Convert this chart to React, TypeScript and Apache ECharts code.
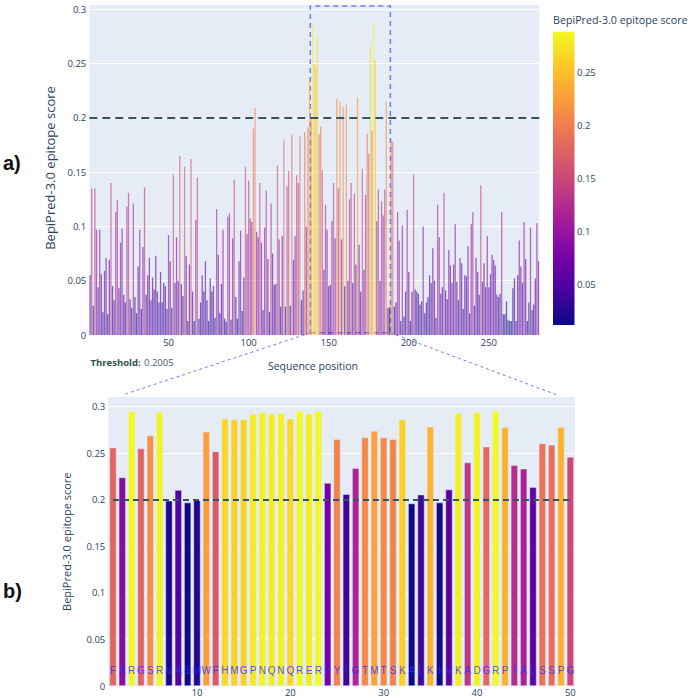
import React, { useEffect, useRef } from "react";
import * as echarts from "echarts";

// BepiPred-3.0 per-residue epitope scores along the whole sequence (positions 1-281)
const topScoresA = [
  0.055, 0.135, 0.027, 0.135, 0.097, 0.044, 0.097, 0.056, 0.021, 0.059,
  0.071, 0.019, 0.069, 0.14, 0.045, 0.032, 0.113, 0.124, 0.043, 0.085,
  0.098, 0.037, 0.03, 0.118, 0.131, 0.033, 0.025, 0.121, 0.035, 0.02,
  0.063, 0.097, 0.024, 0.081, 0.136, 0.037, 0.055, 0.071, 0.032, 0.053,
  0.042, 0.073, 0.04, 0.03, 0.058, 0.03, 0.048, 0.045, 0.024, 0.092,
  0.068, 0.025, 0.148, 0.048, 0.09, 0.05, 0.165, 0.047, 0.036, 0.155,
  0.073, 0.013, 0.065, 0.162, 0.04, 0.013, 0.106, 0.145, 0.015,
];
const topScoresB = [
  0.03, 0.055, 0.04, 0.068, 0.032, 0.013, 0.052, 0.04, 0.045, 0.016,
  0.116, 0.074, 0.02, 0.047, 0.097, 0.015, 0.0123, 0.109, 0.112, 0.014,
  0.089, 0.143, 0.035, 0.015, 0.068, 0.096, 0.022, 0.053, 0.155, 0.093,
  0.142, 0.107, 0.104, 0.19, 0.209, 0.095, 0.09, 0.14, 0.085, 0.023,
  0.099, 0.133, 0.07, 0.021, 0.121, 0.075, 0.046, 0.047, 0.156, 0.088,
  0.026, 0.091, 0.18, 0.026, 0.137, 0.151, 0.027, 0.184, 0.069, 0.091,
  0.147, 0.14, 0.183, 0.032, 0.041, 0.187, 0.1, 0.191, 0.235,
];
const topScoresC = [
  0.2, 0.288, 0.25, 0.248, 0.275, 0.185, 0.192, 0.152, 0.06, 0.12,
  0.097, 0.045, 0.046, 0.105, 0.14, 0.089, 0.218, 0.135, 0.215, 0.088,
  0.21, 0.045, 0.212, 0.05, 0.125, 0.14, 0.048, 0.13, 0.065, 0.219,
  0.083, 0.04, 0.153, 0.06, 0.129, 0.185, 0.167, 0.266, 0.188, 0.2886,
  0.253, 0.105, 0.134, 0.05, 0.123, 0.11, 0.134, 0.215, 0.025, 0.026,
  0.18, 0.178, 0.026, 0.03, 0.113, 0.087, 0.013, 0.101, 0.017, 0.04,
  0.115, 0.058, 0.013, 0.04, 0.148, 0.042, 0.04, 0.038, 0.028, 0.031,
];
const topScoresD = [
  0.1, 0.02, 0.03, 0.035, 0.055, 0.048, 0.08, 0.05, 0.016, 0.12,
  0.09, 0.038, 0.044, 0.131, 0.041, 0.033, 0.078, 0.064, 0.048, 0.065,
  0.102, 0.049, 0.032, 0.071, 0.066, 0.024, 0.055, 0.054, 0.082, 0.02,
  0.102, 0.113, 0.027, 0.071, 0.058, 0.037, 0.138, 0.049, 0.066, 0.044,
  0.091, 0.044, 0.056, 0.074, 0.069, 0.064, 0.037, 0.035, 0.038, 0.113,
  0.019, 0.019, 0.031, 0.014, 0.013, 0.013, 0.043, 0.052, 0.013, 0.055,
  0.087, 0.063, 0.048, 0.104, 0.07, 0.013, 0.03, 0.099, 0.023, 0.028,
  0.052, 0.103, 0.068,
];
const topScores = [...topScoresA, ...topScoresB, ...topScoresC, ...topScoresD];

const THRESHOLD = 0.2005;
// highlighted window on the full sequence
const windowStart = 138.5;
const windowEnd = 188.5;

// 50 highest-scoring residues, with their one-letter codes
const bottomScores = [
  0.256, 0.224, 0.295, 0.255, 0.269, 0.294, 0.199, 0.2105, 0.197, 0.1995,
  0.273, 0.252, 0.287, 0.286, 0.286, 0.292, 0.294, 0.2925, 0.293, 0.287,
  0.2953, 0.2925, 0.2953, 0.218, 0.265, 0.206, 0.234, 0.267, 0.274, 0.267,
  0.265, 0.286, 0.196, 0.2055, 0.2785, 0.197, 0.211, 0.293, 0.24, 0.294,
  0.257, 0.2953, 0.278, 0.237, 0.2334, 0.2134, 0.2606, 0.259, 0.278, 0.246,
];
const residues = [
  "F", "A", "R", "G", "S", "R", "V", "A", "S", "M",
  "W", "F", "H", "M", "G", "P", "N", "Q", "N", "Q",
  "R", "E", "R", "F", "Y", "I", "G", "T", "M", "T",
  "S", "K", "A", "L", "K", "I", "V", "K", "A", "D",
  "G", "R", "P", "I", "A", "L", "S", "S", "P", "G",
];

const topXTicks = [50, 100, 150, 200, 250];
const bottomXTicks = [10, 20, 30, 40, 50];
const colorbarTicks = [0.05, 0.1, 0.15, 0.2, 0.25];

const PLASMA = [
  "#0d0887", "#46039f", "#7201a8", "#9c179e", "#bd3786",
  "#d8576b", "#ed7953", "#fb9f3a", "#fdca26", "#f0f921",
];

const FONT = '"Open Sans", "Noto Sans", sans-serif';
const INK = "#2a3f5f";
const PLOT_BG = "#E5ECF6";
const THRESH_COLOR = "#33565d";
const WINDOW_COLOR = "#6b7ff2";

export default function App() {
  const ref = useRef<HTMLDivElement>(null);

  useEffect(() => {
    if (!ref.current) return;
    const chart = echarts.init(ref.current, null, { renderer: "svg" });

    const topMin = Math.min(...topScores);
    const topMax = Math.max(...topScores);
    const botMin = Math.min(...bottomScores);
    const botMax = Math.max(...bottomScores);

    const topData = topScores.map((v, i) => [i + 1, v]);
    const botData = bottomScores.map((v, i) => [i + 1, v]);

    // colour bar geometry
    const cbX = 553;
    const cbTop = 31.7;
    const cbW = 21.5;
    const cbH = 293.3;
    const cbY = (v: number) => cbTop + ((topMax - v) / (topMax - topMin)) * cbH;

    const baseGraphic: any[] = [
      {
        type: "text", left: 3, top: 153,
        style: { text: "a)", fontSize: 20, fontWeight: "bold", fill: "#111", fontFamily: '"Liberation Sans", Arial, sans-serif' },
      },
      {
        type: "text", left: 3, top: 581,
        style: { text: "b)", fontSize: 20, fontWeight: "bold", fill: "#111", fontFamily: '"Liberation Sans", Arial, sans-serif' },
      },
      {
        type: "text", x: 50, y: 168, rotation: Math.PI / 2,
        style: { text: "BepiPred-3.0 epitope score", fontSize: 13, fill: INK, fontFamily: FONT, textAlign: "center", textVerticalAlign: "middle" },
      },
      {
        type: "text", x: 66, y: 541.7, rotation: Math.PI / 2,
        style: { text: "BepiPred-3.0 epitope score", fontSize: 11, fill: INK, fontFamily: FONT, textAlign: "center", textVerticalAlign: "middle" },
      },
      {
        type: "text", x: 313, y: 366,
        style: { text: "Sequence position", fontSize: 10.5, fill: INK, fontFamily: FONT, textAlign: "center", textVerticalAlign: "middle" },
      },
      {
        type: "text", x: 90.5, y: 362.7,
        style: {
          text: "{b|Threshold:} {n|" + THRESHOLD + "}",
          textVerticalAlign: "middle",
          rich: {
            b: { fontSize: 9.5, fontWeight: "bold", fill: "#2F4F4F", fontFamily: FONT },
            n: { fontSize: 9.5, fill: "#3d6070", fontFamily: FONT },
          },
        },
      },
      {
        type: "text", x: cbX, y: 20,
        style: { text: "BepiPred-3.0 epitope score", fontSize: 10.7, fill: INK, fontFamily: FONT, textVerticalAlign: "middle" },
      },
      {
        type: "rect",
        shape: { x: cbX, y: cbTop, width: cbW, height: cbH },
        style: {
          fill: {
            type: "linear", x: 0, y: 1, x2: 0, y2: 0,
            colorStops: PLASMA.map((c, i) => ({ offset: i / (PLASMA.length - 1), color: c })),
          },
        },
      },
      ...colorbarTicks.map((t) => ({
        type: "text", x: cbX + cbW + 2.5, y: cbY(t),
        style: { text: String(t), fontSize: 9.5, fill: INK, fontFamily: FONT, textVerticalAlign: "middle" },
      })),
    ];

    const option: any = {
      animation: false,
      textStyle: { fontFamily: FONT },
      grid: [
        { left: 89.3, right: 148.7, top: 3.8, bottom: 363, show: true, backgroundColor: PLOT_BG, borderWidth: 0 },
        { left: 108.3, right: 113, top: 396, bottom: 12, show: true, backgroundColor: PLOT_BG, borderWidth: 0 },
      ],
      xAxis: [
        {
          gridIndex: 0, type: "value", min: 0.5, max: 281.5,
          axisLine: { show: false }, axisTick: { show: false }, splitLine: { show: false },
          axisLabel: { customValues: topXTicks, color: INK, fontSize: 9.5, margin: 2 },
        },
        {
          gridIndex: 1, type: "value", min: 0.5, max: 50.5,
          axisLine: { show: false }, axisTick: { show: false }, splitLine: { show: false },
          axisLabel: { customValues: bottomXTicks, color: INK, fontSize: 9.5, margin: 1 },
        },
      ],
      yAxis: [
        {
          gridIndex: 0, type: "value", min: 0, max: 0.305, interval: 0.05,
          axisLine: { show: false }, axisTick: { show: false },
          splitLine: { lineStyle: { color: "#ffffff", width: 1 } },
          axisLabel: { color: INK, fontSize: 9.5, margin: 3, showMaxLabel: false },
        },
        {
          gridIndex: 1, type: "value", min: 0, max: 0.3115, interval: 0.05,
          axisLine: { show: false }, axisTick: { show: false },
          splitLine: { lineStyle: { color: "#ffffff", width: 1 } },
          axisLabel: { color: INK, fontSize: 9.5, margin: 3, showMaxLabel: false },
        },
      ],
      visualMap: [
        { type: "continuous", show: false, seriesIndex: 0, dimension: 1, min: topMin, max: topMax, inRange: { color: PLASMA } },
        { type: "continuous", show: false, seriesIndex: 1, dimension: 1, min: botMin, max: botMax, inRange: { color: PLASMA } },
      ],
      series: [
        {
          type: "bar", xAxisIndex: 0, yAxisIndex: 0, data: topData, barWidth: 1.3,
          itemStyle: { opacity: 0.62 },
          markLine: {
            silent: true, symbol: "none", label: { show: false },
            lineStyle: { color: THRESH_COLOR, type: [8, 5], width: 2.2, opacity: 1 },
            data: [{ yAxis: THRESHOLD }],
          },
          markArea: {
            silent: true,
            itemStyle: { color: "rgba(0,0,0,0)", borderColor: WINDOW_COLOR, borderWidth: 1.5, borderType: [5, 4], opacity: 1 },
            data: [[{ coord: [windowStart, 0.002] }, { coord: [windowEnd, 0.303] }]],
          },
        },
        {
          type: "bar", xAxisIndex: 1, yAxisIndex: 1, data: botData, barWidth: 7,
          itemStyle: { borderColor: PLOT_BG, borderWidth: 0.5 },
          label: {
            show: true, position: "insideBottom", distance: 11,
            formatter: (p: any) => residues[p.dataIndex],
            color: "rgba(45,45,255,0.8)", fontSize: 10, textBorderWidth: 0,
            fontFamily: '"Liberation Sans", Arial, sans-serif',
          },
          markLine: {
            silent: true, symbol: "none", label: { show: false },
            lineStyle: { color: THRESH_COLOR, type: [6, 4], width: 2 },
            data: [[{ coord: [1, THRESHOLD] }, { coord: [50, THRESHOLD] }]],
          },
        },
      ],
      graphic: baseGraphic,
    };

    chart.setOption(option);

    // dashed guides from the highlighted window down to the lower panel
    const a = chart.convertToPixel({ gridIndex: 0 }, [windowStart, 0.002]) as number[];
    const b = chart.convertToPixel({ gridIndex: 0 }, [windowEnd, 0.002]) as number[];
    const c = chart.convertToPixel({ gridIndex: 1 }, [2, 0.3115]) as number[];
    const d = chart.convertToPixel({ gridIndex: 1 }, [48.6, 0.3115]) as number[];
    const guide = (p: number[], q: number[]) => ({
      type: "line",
      shape: { x1: p[0], y1: p[1], x2: q[0], y2: q[1] - 1 },
      style: { stroke: WINDOW_COLOR, lineWidth: 1, lineDash: [3, 3] },
    });
    chart.setOption({ graphic: [...baseGraphic, guide(a, c), guide(b, d)] }, { replaceMerge: ["graphic"] });

    return () => chart.dispose();
  }, []);

  return (
    <div
      ref={ref}
      style={{ position: "absolute", left: 0, top: 0, width: 688, height: 698, background: "#fff" }}
    />
  );
}
